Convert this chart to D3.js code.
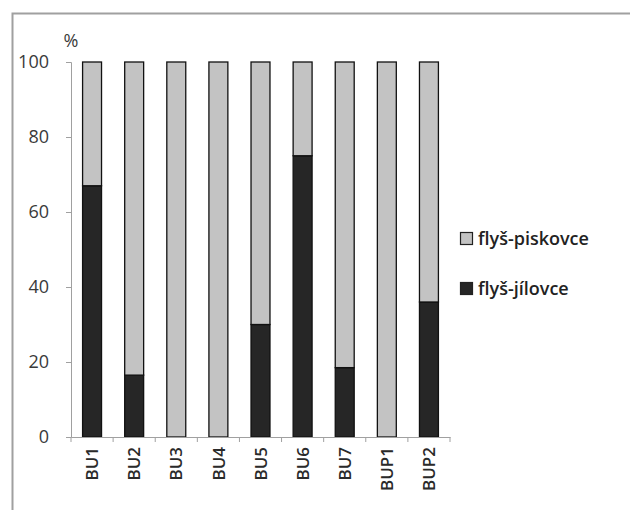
<!DOCTYPE html>
<html>
<head>
<meta charset="utf-8">
<script src="https://cdn.jsdelivr.net/npm/d3@7"></script>
<style>
  html, body { margin: 0; padding: 0; background: #fff; }
  svg { display: block; }
  text { font-family: "Open Sans", "Noto Sans", sans-serif; }
</style>
</head>
<body>
<svg id="chart" width="630" height="510"></svg>
<script>
// Sample sites and share of rock types (%)
const categories = ["BU1", "BU2", "BU3", "BU4", "BU5", "BU6", "BU7", "BUP1", "BUP2"];
const jilovce = [67, 16.5, 0, 0, 30, 75, 18.5, 0, 36];
const piskovce = [33, 83.5, 100, 100, 70, 25, 81.5, 100, 64];
const yTicks = [0, 20, 40, 60, 80, 100];
const seriesNames = ["flyš-piskovce", "flyš-jílovce"];
const seriesColors = ["#c3c3c3", "#262626"];

const svg = d3.select("#chart");

// outer frame
svg.append("path")
  .attr("d", "M12.5,510 L12.5,13.5 L630,13.5")
  .attr("fill", "none")
  .attr("stroke", "#a0a0a0")
  .attr("stroke-width", 2);

const x = d3.scaleBand().domain(categories).range([71, 450]).paddingInner(0.55).paddingOuter(0.275);
const y = d3.scaleLinear().domain([0, 100]).range([437, 62]);

const rows = categories.map((c, i) => ({ cat: c, jilovce: jilovce[i], piskovce: piskovce[i] }));
const stack = d3.stack().keys(["jilovce", "piskovce"]);
const layers = stack(rows);
const layerColor = { jilovce: seriesColors[1], piskovce: seriesColors[0] };

svg.append("g").selectAll("g")
  .data(layers)
  .join("g")
  .attr("fill", d => layerColor[d.key])
  .selectAll("rect")
  .data(d => d.filter(s => s[1] - s[0] > 0))
  .join("rect")
  .attr("x", d => x(d.data.cat))
  .attr("y", d => y(d[1]))
  .attr("width", x.bandwidth())
  .attr("height", d => y(d[0]) - y(d[1]))
  .attr("stroke", "#111")
  .attr("stroke-width", 1.3);

// y axis
const yAxis = svg.append("g")
  .attr("transform", "translate(71,0)")
  .call(d3.axisLeft(y).tickValues(yTicks).tickSize(5).tickPadding(17));
yAxis.select(".domain").attr("stroke", "#a0a0a0");
yAxis.selectAll(".tick line").attr("stroke", "#a0a0a0");
yAxis.selectAll(".tick text")
  .attr("fill", "#3a3a3a")
  .style("font-size", "18px");

// x axis
const xAxis = svg.append("g")
  .attr("transform", "translate(0,437)")
  .call(d3.axisBottom(x).tickSize(0).tickPadding(0));
xAxis.select(".domain").attr("stroke", "#a0a0a0");
xAxis.selectAll(".tick text")
  .attr("transform", "rotate(-90)")
  .attr("x", -10)
  .attr("y", 0)
  .attr("dy", "0.36em")
  .attr("text-anchor", "end")
  .attr("fill", "#2a2a2a")
  .style("font-size", "17px")
  .style("font-weight", "600");

// tick marks between categories
const boundaries = d3.range(categories.length + 1).map(i => 71 + i * (379 / categories.length));
svg.append("g").selectAll("line")
  .data(boundaries)
  .join("line")
  .attr("x1", d => d).attr("x2", d => d)
  .attr("y1", 437).attr("y2", 442)
  .attr("stroke", "#a0a0a0");

// unit label
svg.append("text")
  .attr("x", 71)
  .attr("y", 47)
  .attr("text-anchor", "middle")
  .attr("fill", "#3a3a3a")
  .style("font-size", "18px")
  .text("%");

// legend
const legend = svg.append("g");
[0, 1].forEach((i, k) => {
  const ly = 239 + k * 50;
  legend.append("rect")
    .attr("x", 460.5).attr("y", ly - 6.5)
    .attr("width", 12).attr("height", 12)
    .attr("fill", seriesColors[i])
    .attr("stroke", "#222").attr("stroke-width", 1.2);
  legend.append("text")
    .attr("x", 478).attr("y", ly)
    .attr("dy", "0.35em")
    .attr("fill", "#222")
    .style("font-size", "18px")
    .style("font-weight", "600")
    .text(seriesNames[i]);
});
</script>
</body>
</html>
